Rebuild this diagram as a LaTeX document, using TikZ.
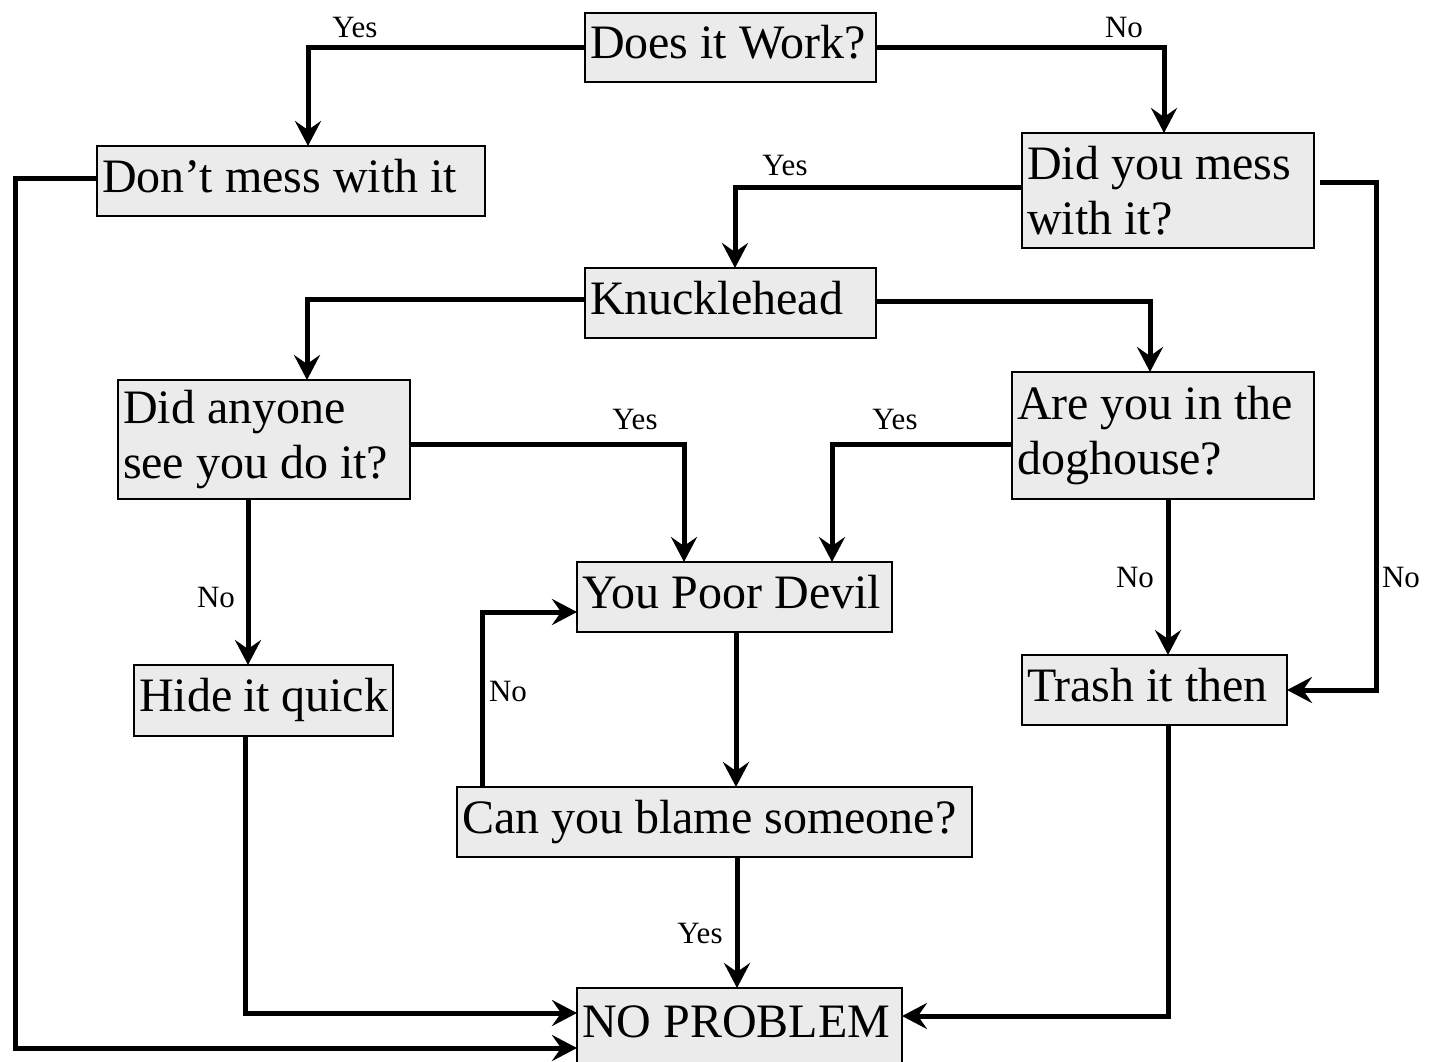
\documentclass[tikz,border=0pt]{standalone}
\usepackage{fontspec}
\setmainfont{Liberation Serif}
\usetikzlibrary{arrows.meta}
\definecolor{boxfill}{RGB}{235,235,235}
\tikzset{
  box/.style={draw=black, line width=2pt, fill=boxfill, anchor=north west,
    inner xsep=5pt, inner ysep=0pt, outer sep=0pt, align=left,
    font=\fontsize{48}{55}\selectfont,
    execute at begin node={\spaceskip=0pt\xspaceskip=0pt\relax}},
  oneline/.style={text height=33pt, text depth=11pt},
  conn/.style={line width=5pt},
  arr/.style={conn, -{Stealth[length=25pt,width=26pt,inset=9pt]}},
  lbl/.style={font=\fontsize{31}{36}\selectfont, inner sep=0pt},
}
\begin{document}
\begin{tikzpicture}[x=1pt,y=-1pt]
\clip (0,0) rectangle (1434,1061);
\fill[white] (0,0) rectangle (1434,1061);

% boxes
\node[box, oneline, text width=281pt, minimum height=69pt] (dw) at (585,13) {Does it Work?};
\node[box, oneline, text width=378pt, minimum height=70pt] (dm) at (97,146) {Don’t mess with it};
\node[box, text width=282pt, minimum height=115pt] (dy) at (1022,133) {Did you mess\\with it?};
\node[box, oneline, text width=281pt, minimum height=70pt] (kn) at (585,268) {Knucklehead};
\node[box, text width=282pt, minimum height=119pt] (da) at (118,380) {Did anyone\\see you do it?};
\node[box, text width=292pt, minimum height=127pt] (ad) at (1012,372) {Are you in the\\doghouse?};
\node[box, oneline, text width=305pt, minimum height=70pt] (pd) at (577,562) {You Poor Devil};
\node[box, oneline, text width=249pt, minimum height=71pt] (hq) at (134,665) {Hide it quick};
\node[box, oneline, text width=255pt, minimum height=70pt] (tr) at (1022,655) {Trash it then};
\node[box, oneline, text width=505pt, minimum height=70pt] (cb) at (457,787) {Can you blame someone?};
\node[box, oneline, text width=315pt, minimum height=76pt] (np) at (577,988) {NO PROBLEM};

% connectors
\draw[arr] (dw.west) -| ([xshift=17pt]dm.north);
\draw[arr] (dw.east) -| ([xshift=-4pt]dy.north);
\draw[arr] ([yshift=3pt]dy.west) -| ([xshift=4.5pt]kn.north);
\draw[arr] ([xshift=6pt,yshift=8pt]dy.east) -- ++(56,0) |- (tr.east);
\draw[arr] ([yshift=3pt]dm.west) -- ++(-82,0) |- ([yshift=-22pt]np.west);
\draw[arr] ([yshift=4pt]kn.west) -| ([xshift=43pt]da.north);
\draw[arr] ([yshift=2pt]kn.east) -| ([xshift=-13pt]ad.north);
\draw[arr] ([yshift=-4.5pt]da.east) -| ([xshift=-50.5pt]pd.north);
\draw[arr] ([xshift=-16pt]da.south) -- ([xshift=-15.5pt]hq.north);
\draw[arr] ([yshift=-8.5pt]ad.west) -| ([xshift=97.5pt]pd.north);
\draw[arr] ([xshift=5pt]ad.south) -- ([xshift=13.5pt]tr.north);
\draw[arr] ([xshift=1.5pt]pd.south) -- ([xshift=21.5pt]cb.north);
\draw[arr] ([xshift=-232.5pt]cb.north) |- ([yshift=-15pt]pd.west);
\draw[arr] ([xshift=22.5pt]cb.south) -- ([xshift=-2.5pt]np.north);
\draw[arr] ([xshift=-18.5pt]hq.south) |- ([yshift=13pt]np.west);
\draw[arr] ([xshift=13.5pt]tr.south) |- ([yshift=10pt]np.east);

% labels
\node[lbl] (l1) at (355,27) {Yes};
\node[lbl] (l2) at (1124,27) {No};
\node[lbl] (l3) at (785,165) {Yes};
\node[lbl] (l4) at (635,419) {Yes};
\node[lbl] (l5) at (895,419) {Yes};
\node[lbl] (l6) at (216,597) {No};
\node[lbl] (l7) at (1135,577) {No};
\node[lbl] (l8) at (1401,577) {No};
\node[lbl] (l9) at (508,691) {No};
\node[lbl] (l10) at (700,933) {Yes};
\end{tikzpicture}
\end{document}
